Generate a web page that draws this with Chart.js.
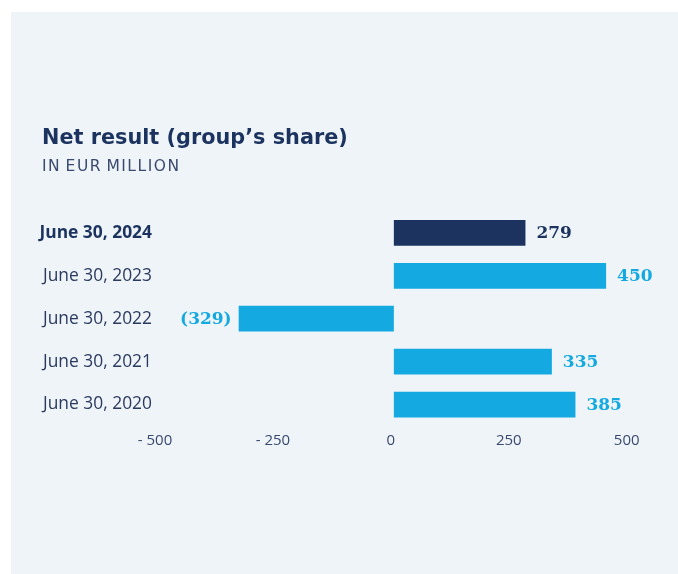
<!DOCTYPE html>
<html>
<head>
<meta charset="utf-8">
<script src="https://cdn.jsdelivr.net/npm/chart.js@4"></script>
<style>
  html, body { margin: 0; padding: 0; background: #ffffff; }
  #panel { position: absolute; left: 11px; top: 12px; width: 667px; height: 562px; background: #eff4f9; }
  #panel canvas { position: absolute; left: 0; top: 0; }
  .title { position: absolute; left: 31px; top: 113px; margin: 0; line-height: 1;
           font: bold 20.8px 'DejaVu Sans', sans-serif; color: #1b335e; white-space: nowrap; }
  .subtitle { position: absolute; left: 31px; top: 145.3px; margin: 0; line-height: 1;
              font: 15.5px 'DejaVu Sans', sans-serif; color: #3a4a6e; letter-spacing: 1.5px;
              word-spacing: -2px; white-space: nowrap; }
</style>
</head>
<body>
<div id="panel">
  <canvas id="chart" width="667" height="562"></canvas>
  <div class="title">Net result (group’s share)</div>
  <div class="subtitle">IN EUR MILLION</div>
</div>
<script>
// data
const categories = ['June 30, 2024', 'June 30, 2023', 'June 30, 2022', 'June 30, 2021', 'June 30, 2020'];
const netResult = [279, 450, -329, 335, 385];
const tickValues = [-500, -250, 0, 250, 500];

const NAVY = '#1b335e';
const CYAN = '#14a9e0';
const SANS = "'Open Sans', sans-serif";

// first bar (current year) is dark, the rest are cyan
const barColors = netResult.map((v, i) => i === 0 ? NAVY : CYAN);

// value labels next to the bar ends, negatives in brackets
const valueLabels = {
  id: 'valueLabels',
  afterDatasetsDraw(chart) {
    const ctx = chart.ctx;
    const meta = chart.getDatasetMeta(0);
    ctx.save();
    ctx.font = "bold 17px 'DejaVu Serif', serif";
    ctx.textBaseline = 'middle';
    meta.data.forEach((bar, i) => {
      const v = netResult[i];
      ctx.fillStyle = barColors[i];
      if (v >= 0) {
        ctx.textAlign = 'left';
        ctx.fillText(String(v), bar.x + 11, bar.y + 1);
      } else {
        ctx.textAlign = 'right';
        ctx.fillText('(' + Math.abs(v) + ')', bar.x - 7, bar.y + 1);
      }
    });
    ctx.restore();
  }
};

new Chart(document.getElementById('chart'), {
  type: 'bar',
  data: {
    labels: categories,
    datasets: [{
      data: netResult,
      backgroundColor: barColors,
      borderWidth: 0,
      categoryPercentage: 1,
      barPercentage: 0.6
    }]
  },
  options: {
    indexAxis: 'y',
    responsive: false,
    animation: false,
    layout: { padding: { left: 0, top: 199.4, right: 20, bottom: 118 } },
    plugins: {
      legend: { display: false },
      tooltip: { enabled: false }
    },
    scales: {
      x: {
        min: -500,
        max: 560,
        grid: { display: false, drawTicks: false },
        border: { display: false },
        afterBuildTicks: s => { s.ticks = tickValues.map(v => ({ value: v })); },
        ticks: {
          color: '#3a4a6e',
          padding: 6,
          labelOffset: -3,
          font: { family: SANS, size: 15 },
          callback: v => v < 0 ? '- ' + Math.abs(v) : String(v)
        }
      },
      y: {
        grid: { display: false, drawTicks: false },
        border: { display: false },
        afterFit: s => { s.width = 147; },
        ticks: {
          padding: 6,
          color: c => c.index === 0 ? NAVY : '#2b3a5e',
          font: c => ({ family: SANS, size: 17.4, weight: c.index === 0 ? 'bold' : 'normal' })
        }
      }
    }
  },
  plugins: [valueLabels]
});
</script>
</body>
</html>
